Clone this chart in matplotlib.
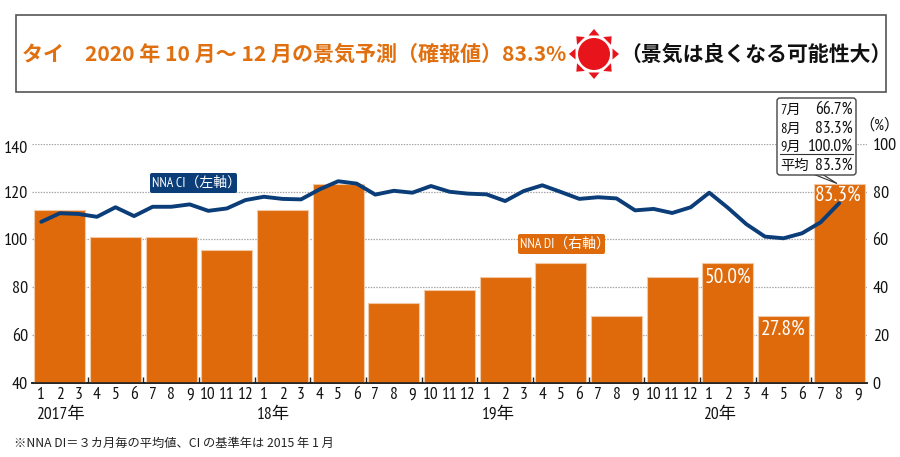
import numpy as np
import matplotlib
matplotlib.use('Agg')
import matplotlib.pyplot as plt
from matplotlib.patches import Circle, FancyBboxPatch, Polygon, Rectangle
from matplotlib.transforms import ScaledTranslation

NARROW = ['PT Sans Narrow', 'Noto Sans CJK JP', 'DejaVu Sans']
JP = ['Noto Sans CJK JP', 'DejaVu Sans']
plt.rcParams['font.family'] = NARROW

ORANGE = '#de6a0b'
NAVY = '#0b3d78'
DARK = '#111111'

# NNA CI, left axis, 2017/1 - 2020/8
ci = [107.4, 111.0, 110.7, 109.5, 113.5, 109.8, 113.7, 113.7, 114.7, 112.0, 113.0, 116.5,
      117.9, 117.0, 116.8, 121.0, 124.4, 123.4, 118.8, 120.4, 119.6, 122.4, 120.0, 119.2,
      118.9, 116.1, 120.3, 122.7, 119.9, 117.0, 117.7, 117.2, 112.2, 112.8, 111.1, 113.5,
      119.6, 113.3, 106.4, 101.2, 100.5, 102.6, 107.2, 115.2]
# NNA DI, right axis, one value per quarter
di = [72.2, 61.1, 61.1, 55.6, 72.2, 83.3, 33.3, 38.9, 44.4, 50.0, 27.8, 44.4, 50.0, 27.8, 83.3]
months = [1, 2, 3, 4, 5, 6, 7, 8, 9, 10, 11, 12] * 3 + [1, 2, 3, 4, 5, 6, 7, 8, 9]
year_labels = ['2017年', '18年', '19年', '20年']
left_ticks = [40, 60, 80, 100, 120, 140]
right_ticks = [0, 20, 40, 60, 80, 100]
callout_rows = [('7月', '66.7%'), ('8月', '83.3%'), ('9月', '100.0%'), ('平均', '83.3%')]

W, H = 900, 457
fig = plt.figure(figsize=(9, 4.57), dpi=100)
x0, x1, ytop, ybot = 32, 867, 144, 382.7
rect = [x0 / W, 1 - ybot / H, (x1 - x0) / W, (ybot - ytop) / H]

ax_r = fig.add_axes(rect)
ax_l = ax_r.twinx()
ax_r.yaxis.tick_right()
ax_l.yaxis.tick_left()
ax_l.set_zorder(2)
ax_l.patch.set_visible(False)

x_m = np.arange(len(months))
x_q = np.arange(len(di)) * 3 + 1
ax_r.bar(x_q, di, width=2.75, color=ORANGE, edgecolor='#f2c9a6', linewidth=0.8, zorder=3)
ax_l.plot(x_m[:len(ci)], ci, color=NAVY, lw=2.8, solid_joinstyle='round', solid_capstyle='round')

ax_r.set_xlim(-0.5, 44.5)
ax_r.set_ylim(0, 100)
ax_l.set_ylim(40, 140)
ax_r.set_yticks(right_ticks)
ax_l.set_yticks(left_ticks)
ax_r.yaxis.grid(True, color='#a8a8a8', ls=(0, (1.2, 1)), lw=0.9, zorder=0)
ax_r.set_axisbelow(True)
ax_r.tick_params(axis='y', length=0, pad=4, labelsize=13, labelcolor=DARK)
ax_l.tick_params(axis='y', length=0, pad=3, labelsize=13, labelcolor=DARK)
# the top left label sits a little under its gridline
top_lab = ax_l.get_yticklabels()[-1]
top_lab.set_transform(top_lab.get_transform() + ScaledTranslation(0, -0.03, fig.dpi_scale_trans))
ax_r.set_xticks(np.arange(2.5, 44, 3))
ax_r.set_xticklabels([])
ax_r.tick_params(axis='x', direction='in', length=4.5, width=1, color='#222222')
ax_l.tick_params(axis='x', length=0, labelbottom=False)
for a in (ax_r, ax_l):
    for s in ('top', 'left', 'right'):
        a.spines[s].set_visible(False)
    a.spines['bottom'].set_linewidth(1.2)
    a.spines['bottom'].set_color('#222222')

# month labels under the axis
tr = ax_r.get_xaxis_transform()
for i, m in zip(x_m, months):
    ax_r.text(i, -0.053, str(m), transform=tr, ha='center', va='center', fontsize=12.5, color=DARK, clip_on=False)

# overlay in pixel coordinates for the furniture
ov = fig.add_axes([0, 0, 1, 1], zorder=5)
ov.set_xlim(0, W)
ov.set_ylim(H, 0)
ov.axis('off')

ov.add_patch(Rectangle((16, 15), 870, 77, fc='white', ec='#555555', lw=1.2))
ov.text(22, 54, 'タイ　2020 年 10 月～ 12 月の景気予測（確報値）83.3%', color='#e0700f', fontsize=15.15,
        family=JP, fontweight='bold', va='center', ha='left')
ov.text(892, 54, '（景気は良くなる可能性大）', color=DARK, fontsize=15, family=JP, fontweight='bold', va='center', ha='right')

# sun
sx, sy = 594, 54
c = np.array([sx, sy])
ov.add_patch(Circle((sx, sy), 16, fc='#e8141c', ec='none'))
for k in range(8):
    ang = k * np.pi / 4
    u = np.array([np.cos(ang), np.sin(ang)])
    v = np.array([-u[1], u[0]])
    ov.add_patch(Polygon([c + u * 25, c + u * 18.5 + v * 5.5, c + u * 18.5 - v * 5.5], fc='#e8141c', ec='none'))

# series labels
ov.add_patch(FancyBboxPatch((151, 174), 85, 18, boxstyle='round,pad=1,rounding_size=2', fc=NAVY, ec='none'))
ov.text(197, 183, 'NNA CI（左軸）', color='white', fontsize=10, ha='center', va='center')
ov.add_patch(FancyBboxPatch((519, 235), 85, 18, boxstyle='round,pad=1,rounding_size=2', fc=ORANGE, ec='none'))
ov.text(565, 244.5, 'NNA DI（右軸）', color='white', fontsize=10, ha='center', va='center')

# value labels on bars
ov.text(727.5, 277, '50.0%', color='white', fontsize=15.5, ha='center', va='center')
ov.text(783, 329, '27.8%', color='white', fontsize=15.5, ha='center', va='center')
ov.text(838.5, 195, '83.3%', color='white', fontsize=15.5, ha='center', va='center')

# callout
ov.add_patch(Polygon([(813, 174), (837, 183.5), (822, 174)], fc='white', ec='#333333', lw=0.8, zorder=2))
ov.add_patch(FancyBboxPatch((779, 100), 75, 73, boxstyle='round,pad=2,rounding_size=3', fc='white', ec='#444444', lw=1, zorder=3))
ov.plot([780, 853], [154, 154], color='#333333', lw=0.8, zorder=4)
for (a, b), y in zip(callout_rows, [110, 129, 147, 166]):
    ov.text(780, y, a, fontsize=10.3, ha='left', va='center', color=DARK, zorder=4)
    ov.text(853, y, b, fontsize=12.5, ha='right', va='center', color=DARK, zorder=4)
ov.text(880, 125, '（%）', fontsize=11, ha='center', va='center', color=DARK)

for lab, x in zip(year_labels, [60, 274, 498, 720]):
    ov.text(x, 414.5, lab, fontsize=12.5, ha='center', va='center', color=DARK)
ov.text(14, 443, '※NNA DI＝３カ月毎の平均値、CI の基準年は 2015 年 1 月', fontsize=8.8, family=JP, ha='left', va='center', color='#222222')

fig.savefig('out.png', dpi=100)
